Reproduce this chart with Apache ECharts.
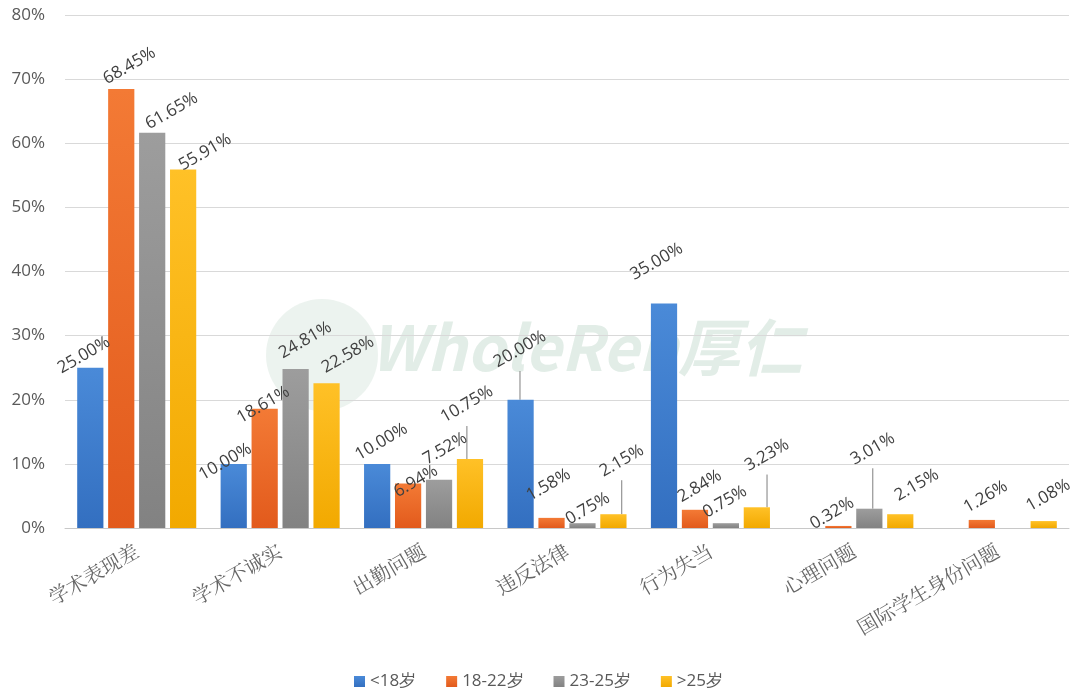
<!DOCTYPE html>
<html>
<head>
<meta charset="utf-8">
<script src="https://cdn.jsdelivr.net/npm/echarts@6/dist/echarts.min.js"></script>
<style>
  html, body { margin: 0; padding: 0; background: #fff; }
  #main { width: 1077px; height: 696px; }
</style>
</head>
<body>
<div id="main"></div>
<script>
// categories and series (percent)
var categories = ['学术表现差', '学术不诚实', '出勤问题', '违反法律', '行为失当', '心理问题', '国际学生身份问题'];
var seriesNames = ['<18岁', '18-22岁', '23-25岁', '>25岁'];
var under18 = [25.00, 10.00, 10.00, 20.00, 35.00, null, null];
var age18to22 = [68.45, 18.61, 6.94, 1.58, 2.84, 0.32, 1.26];
var age23to25 = [61.65, 24.81, 7.52, 0.75, 0.75, 3.01, null];
var over25 = [55.91, 22.58, 10.75, 2.15, 3.23, 2.15, 1.08];

var topColors = ['#4a8ad8', '#f37a35', '#9d9d9d', '#ffc127'];
var bottomColors = ['#336fc0', '#e25a1c', '#828282', '#f2a900'];

// excel moved some labels around; [dx, dy] per series / category
var labelNudge = [
  [[-30, -2], [-37, 6], [-16, -5], [-6, -32], [-16, -28], null, null],
  [[-12, -4], [-30, 8], [-18, 14], [-12, -18], [-10, -6], [-25, -2], [-11, -6]],
  [[-3, 3], [-8, -8], [-5, -12], [-14, 2], [-16, -7], [7, -38], null],
  [[-3, 8], [2, -2], [-6, -37], [8, -30], [9, -28], [3, -5], [-9, -8]]
];
// labels that have a leader line back to the bar
var leaderLines = [[3], [], [5], [2, 3, 4]];

var chart = echarts.init(document.getElementById('main'));

function makeSeries(idx, values) {
  var data = values.map(function (v, i) {
    var item = { value: v };
    if (leaderLines[idx].indexOf(i) >= 0) {
      item.labelLine = { show: true };
    }
    return item;
  });
  return {
    name: seriesNames[idx],
    type: 'bar',
    data: data,
    barGap: '18%',
    barCategoryGap: '17%',
    itemStyle: {
      color: new echarts.graphic.LinearGradient(0, 0, 0, 1, [
        { offset: 0, color: topColors[idx] },
        { offset: 1, color: bottomColors[idx] }
      ])
    },
    label: {
      show: true,
      position: 'top',
      rotate: 30,
      distance: 4,
      align: 'left',
      verticalAlign: 'bottom',
      offset: [-14, 0],
      color: '#404040',
      fontSize: 17,
      fontFamily: 'Open Sans',
      formatter: function (p) { return p.value.toFixed(2) + '%'; }
    },
    labelLine: {
      show: false,
      length2: 0,
      lineStyle: { color: '#7f7f7f', width: 1 }
    },
    labelLayout: function (p) {
      var n = labelNudge[idx][p.dataIndex];
      if (n) return { dx: n[0], dy: n[1] };
      return {};
    }
  };
}

var option = {
  backgroundColor: '#fff',
  color: topColors,
  grid: { left: 65, right: 8, top: 15, bottom: 168 },
  graphic: [{
    type: 'circle',
    shape: { cx: 322, cy: 355, r: 56 },
    z: -1,
    style: { fill: 'rgba(160, 195, 175, 0.2)' }
  }, {
    type: 'text',
    left: 370,
    top: 316,
    z: -1,
    style: {
      text: 'WholeRen厚仁',
      fontSize: 62,
      fontWeight: 'bold',
      fontStyle: 'italic',
      fontFamily: 'Noto Sans CJK SC',
      fill: 'rgba(160, 195, 175, 0.3)'
    }
  }],
  legend: {
    bottom: 1,
    left: 'center',
    itemWidth: 11,
    itemHeight: 11,
    itemGap: 30,
    icon: 'rect',
    textStyle: { color: '#595959', fontSize: 17, fontFamily: 'Open Sans' },
    data: seriesNames
  },
  xAxis: {
    type: 'category',
    data: categories,
    axisTick: { show: false },
    axisLine: { lineStyle: { color: '#c8c8c8' } },
    axisLabel: {
      rotate: 30,
      interval: 0,
      margin: 21,
      color: '#666',
      fontSize: 20,
      fontFamily: 'Noto Serif CJK SC, Noto Sans CJK SC, serif'
    }
  },
  yAxis: {
    type: 'value',
    min: 0,
    max: 80,
    interval: 10,
    axisLabel: {
      formatter: '{value}%',
      color: '#595959',
      fontSize: 17,
      fontFamily: 'Open Sans',
      margin: 20
    },
    splitLine: { lineStyle: { color: '#d9d9d9' } },
    axisLine: { show: false },
    axisTick: { show: false }
  },
  series: [
    makeSeries(0, under18),
    makeSeries(1, age18to22),
    makeSeries(2, age23to25),
    makeSeries(3, over25)
  ]
};

chart.setOption(option);
</script>
</body>
</html>
